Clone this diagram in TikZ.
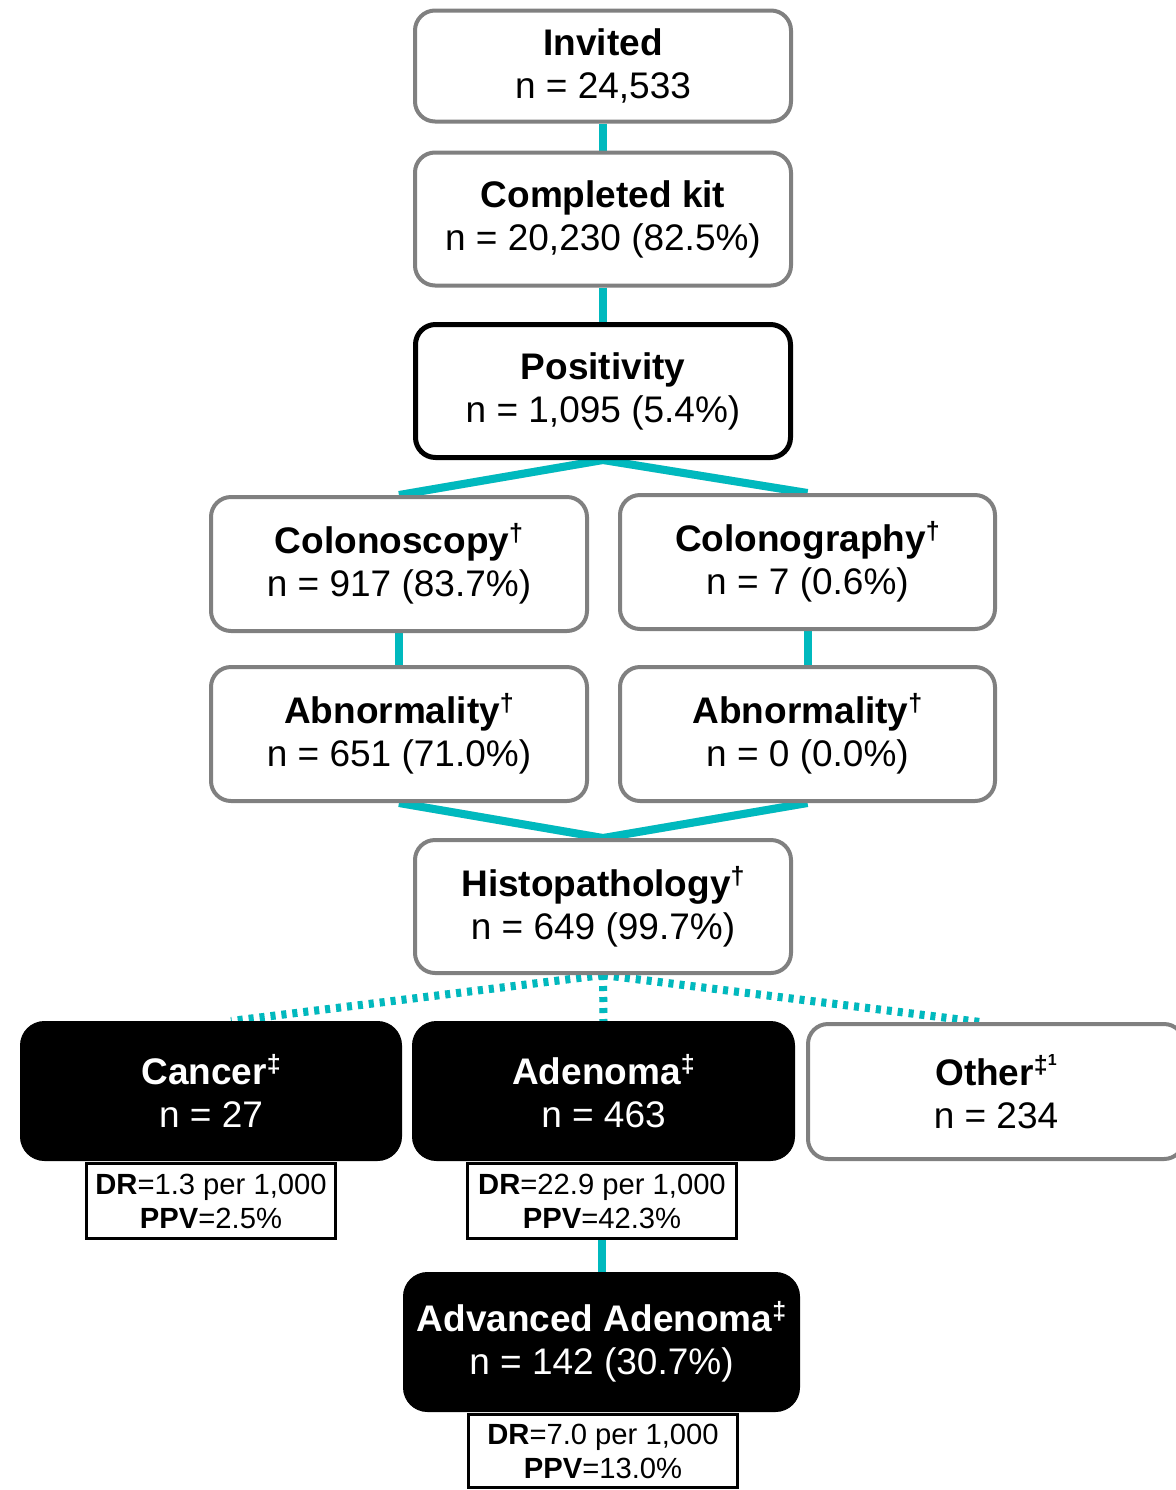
\documentclass[tikz,border=0pt]{standalone}
\usepackage{fontspec}
\setmainfont{Liberation Sans}
\usetikzlibrary{backgrounds}
\definecolor{teal1}{RGB}{0,185,190}
\definecolor{grayb}{RGB}{128,128,128}
\newcommand\supmark[1]{\raisebox{0.33em}{\fontsize{12.5}{12.5}\selectfont\bfseries #1}}
\tikzset{
  box/.style={draw=grayb, line width=2pt, rounded corners=10pt, fill=white,
    align=center, inner sep=0pt, font=\fontsize{18.5}{21.5}\selectfont},
  posbox/.style={box, draw=black, line width=2.5pt},
  blackbox/.style={box, draw=black, fill=black, text=white, line width=0.5pt, rounded corners=12pt},
  drbox/.style={draw=black, line width=1.5pt, fill=white, align=center, inner sep=0pt,
    font=\fontsize{14.6}{17}\selectfont},
  conn/.style={draw=teal1, line width=4pt},
  dotconn/.style={draw=teal1, line width=4pt, dash pattern=on 2.5pt off 3pt},
  shadowline/.style={draw=black!12, line width=4pt, yshift=-2pt},
  dotshadow/.style={draw=black!12, line width=4pt, yshift=-2.5pt, dash pattern=on 2.5pt off 3pt},
}
\begin{document}
\begin{tikzpicture}[x=0.5pt,y=-0.5pt]
\useasboundingbox (0,0) rectangle (1176,1490);
\node[box, minimum width=188pt, minimum height=55.5pt] (inv) at (603,66) {\textbf{Invited}\\n = 24,533};
\node[box, minimum width=188pt, minimum height=66.5pt] (kit) at (603,219) {\textbf{Completed kit}\\n = 20,230 (82.5\%)};
\node[posbox, minimum width=187.5pt, minimum height=66.5pt] (pos) at (603,391) {\textbf{Positivity}\\n = 1,095 (5.4\%)};
\node[box, minimum width=188pt, minimum height=67pt] (colo) at (399,564) {\textbf{Colonoscopy\supmark{†}}\\n = 917 (83.7\%)};
\node[box, minimum width=187.5pt, minimum height=67pt] (cologr) at (807.5,562) {\textbf{Colonography\supmark{†}}\\n = 7 (0.6\%)};
\node[box, minimum width=188pt, minimum height=67pt] (abnL) at (399,734) {\textbf{Abnormality\supmark{†}}\\n = 651 (71.0\%)};
\node[box, minimum width=187.5pt, minimum height=67pt] (abnR) at (807.5,734) {\textbf{Abnormality\supmark{†}}\\n = 0 (0.0\%)};
\node[box, minimum width=188pt, minimum height=66.5pt] (hist) at (603,906.5) {\textbf{Histopathology\supmark{†}}\\n = 649 (99.7\%)};
\node[blackbox, minimum width=190.5pt, minimum height=69.5pt] (cancer) at (211,1091) {\textbf{Cancer\supmark{‡}}\\n = 27};
\node[blackbox, minimum width=191pt, minimum height=69.5pt] (aden) at (603.5,1091) {\textbf{Adenoma\supmark{‡}}\\n = 463};
\node[box, minimum width=188pt, minimum height=67.5pt] (other) at (996,1091.5) {\textbf{Other\supmark{‡}\raisebox{0.55em}{\fontsize{8}{8}\selectfont\bfseries 1}}\\n = 234};
\node[drbox, minimum width=124.5pt, minimum height=37.5pt] (drC) at (211,1201) {\textbf{DR}=1.3 per 1,000\\\textbf{PPV}=2.5\%};
\node[drbox, minimum width=134.5pt, minimum height=37.5pt] (drA) at (602,1201) {\textbf{DR}=22.9 per 1,000\\\textbf{PPV}=42.3\%};
\node[blackbox, minimum width=198pt, minimum height=69.5pt] (aa) at (601.5,1342) {\textbf{Advanced Adenoma\supmark{‡}}\\n = 142 (30.7\%)};
\node[drbox, minimum width=134.5pt, minimum height=36.5pt] (drAA) at (603,1451) {\textbf{DR}=7.0 per 1,000\\\textbf{PPV}=13.0\%};
\begin{scope}[on background layer]
  \draw[conn] (inv.south) -- (kit.north);
  \draw[conn] (kit.south) -- (pos.north);
  \draw[shadowline] (pos.south) -- (colo.north);
  \draw[shadowline] (pos.south) -- (cologr.north);
  \draw[conn] (pos.south) -- (colo.north);
  \draw[conn] (pos.south) -- (cologr.north);
  \draw[conn] (colo.south) -- (abnL.north);
  \draw[conn] (cologr.south) -- (abnR.north);
  \draw[shadowline] (abnL.south) -- (hist.north);
  \draw[shadowline] (abnR.south) -- (hist.north);
  \draw[conn] (abnL.south) -- (hist.north);
  \draw[conn] (abnR.south) -- (hist.north);
  \coordinate (cT) at ([xshift=10pt]cancer.north);
  \coordinate (oT) at ([xshift=-8pt]other.north);
  \draw[dotshadow] (hist.south) -- (cT);
  \draw[dotshadow] (hist.south) -- (oT);
  \draw[dotshadow] (hist.south) -- (aden.north);
  \draw[dotconn] (hist.south) -- (cT);
  \draw[dotconn] (hist.south) -- (oT);
  \draw[dotconn] (hist.south) -- (aden.north);
  \draw[conn] (drA.south) -- (drA.south |- aa.north);
\end{scope}
\end{tikzpicture}
\end{document}
